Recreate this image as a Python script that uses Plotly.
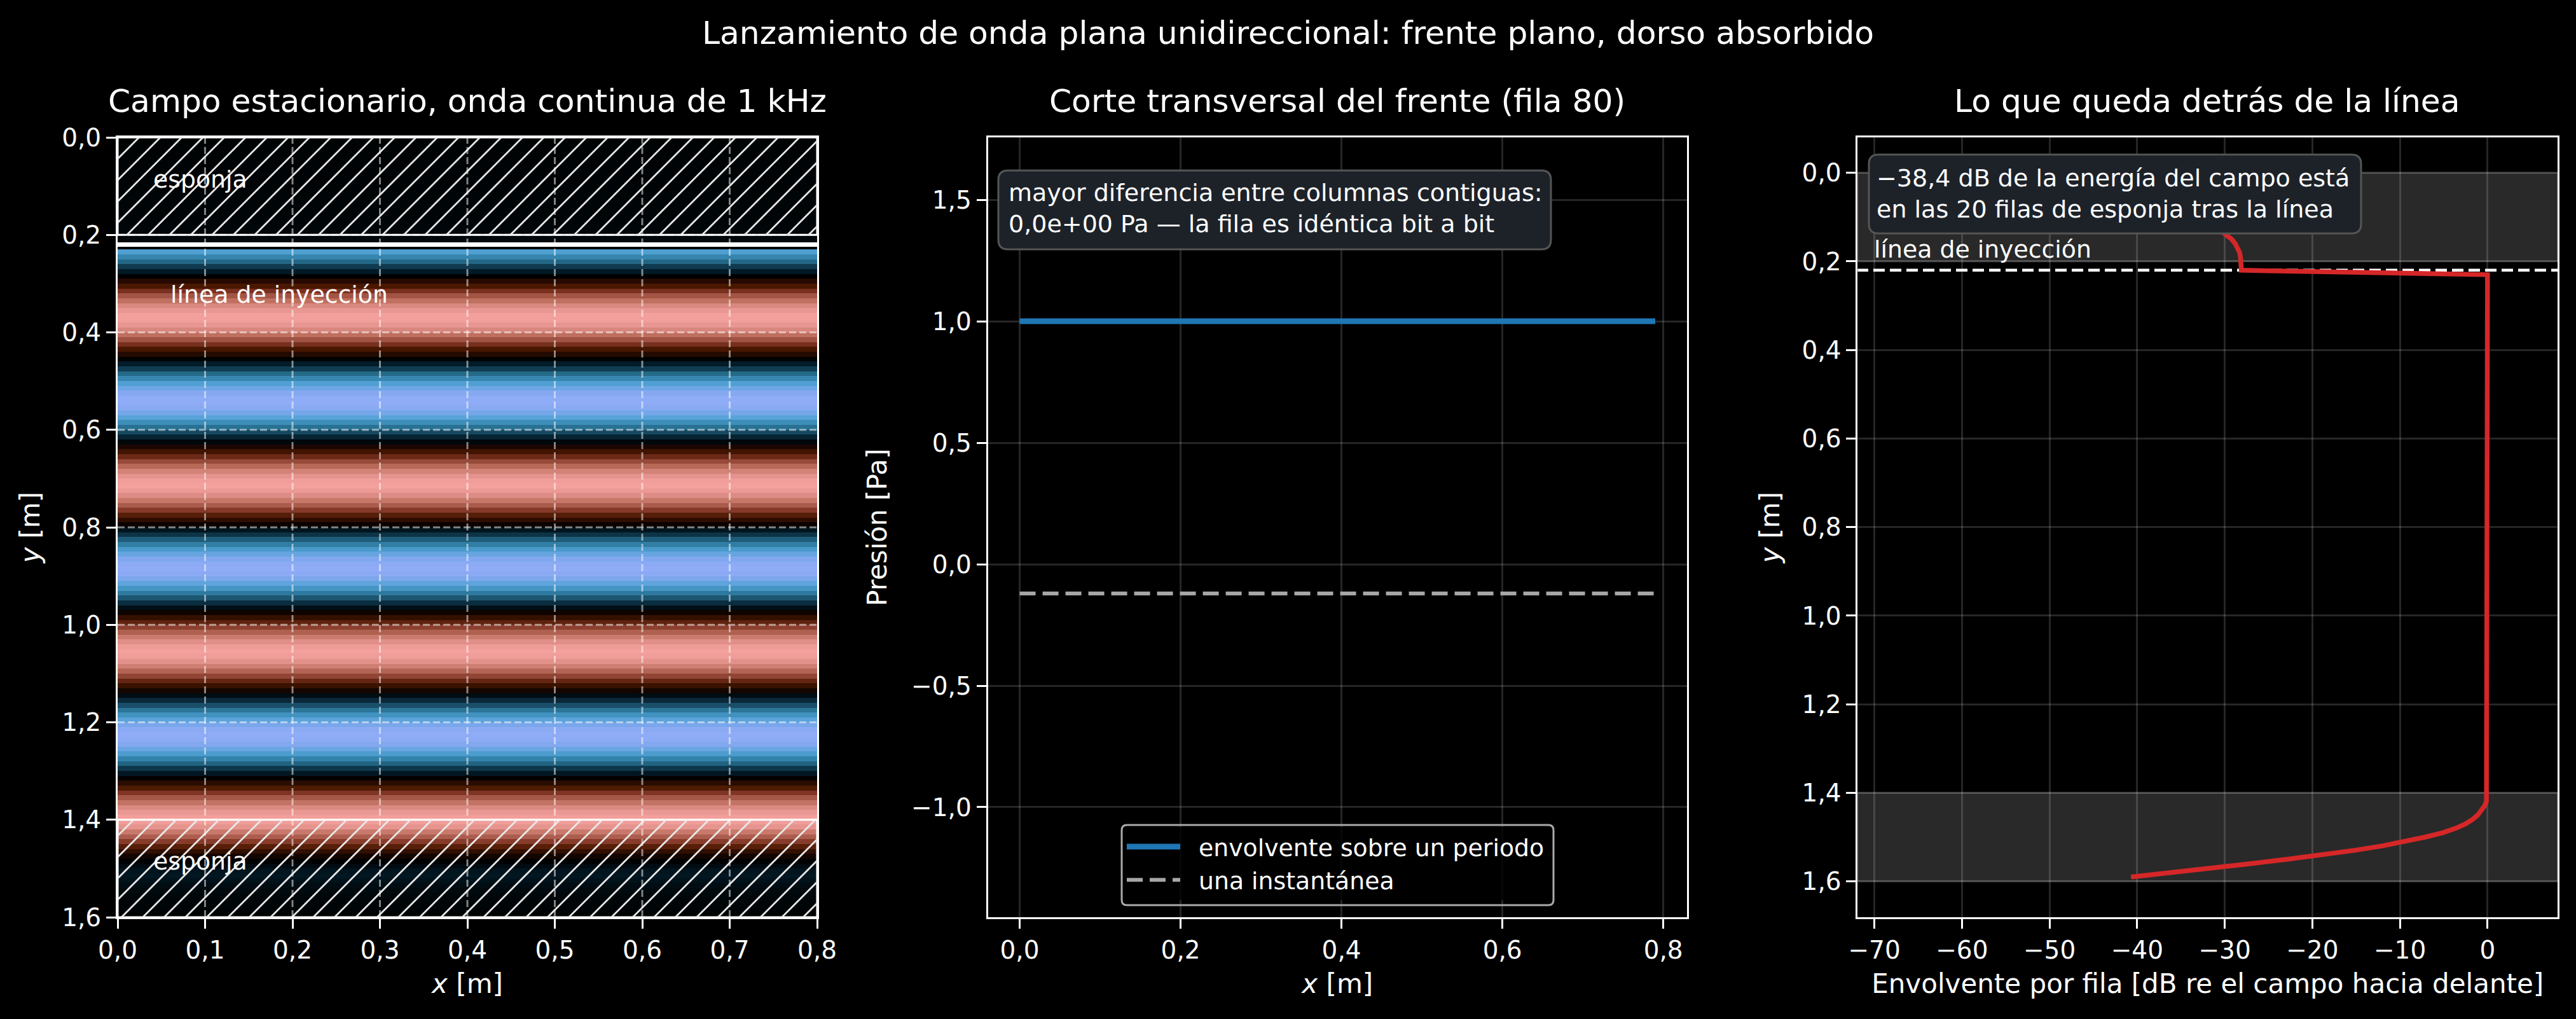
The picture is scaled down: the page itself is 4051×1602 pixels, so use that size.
import plotly.graph_objects as go
from plotly.subplots import make_subplots

# ---------------------------------------------------------------
# Datos
# ---------------------------------------------------------------
# presion por fila (fila 0 arriba, 160 filas de 0,01 m)
presion_fila = [
    -0.005, -0.005, -0.006, -0.006, -0.007, -0.007, -0.008, -0.008, -0.009, -0.010,
    -0.011, -0.012, -0.013, -0.014, -0.015, -0.016, -0.018, -0.020, -0.022, -0.024,
    -0.026, -0.028, 0.010, -0.781, -0.654, -0.506, -0.340, -0.163, 0.019, 0.200,
    0.376, 0.538, 0.683, 0.804, 0.899, 0.964, 0.996, 0.995, 0.961, 0.895,
    0.798, 0.675, 0.529, 0.367, 0.191, 0.009, -0.174, -0.350, -0.515, -0.663,
    -0.788, -0.887, -0.956, -0.994, -0.998, -0.969, -0.907, -0.815, -0.696, -0.553,
    -0.392, -0.217, -0.035, 0.147, 0.325, 0.492, 0.641, 0.771, 0.874, 0.948,
    0.990, 0.999, 0.975, 0.918, 0.830, 0.714, 0.575, 0.416, 0.243, 0.063,
    -0.120, -0.299, -0.467, -0.621, -0.753, -0.859, -0.939, -0.986, -1.000, -0.980,
    -0.927, -0.844, -0.734, -0.597, -0.442, -0.270, -0.091, 0.092, 0.273, 0.445,
    0.599, 0.735, 0.846, 0.929, 0.981, 1.000, 0.985, 0.938, 0.859, 0.751,
    0.619, 0.465, 0.296, 0.117, -0.066, -0.246, -0.419, -0.577, -0.716, -0.832,
    -0.919, -0.975, -0.999, -0.990, -0.947, -0.873, -0.769, -0.640, -0.490, -0.323,
    -0.144, 0.038, 0.220, 0.393, 0.554, 0.697, 0.816, 0.908, 0.969, 0.998,
    0.990, 0.950, 0.840, 0.720, 0.580, 0.420, 0.260, 0.110, 0.010, -0.060,
    -0.120, -0.140, -0.110, -0.070, -0.050, -0.035, -0.025, -0.015, -0.010, -0.005,
]
envolvente_pa = [1.0] * 80

# envolvente en dB por fila
db_esponja_sup = [
    -68.0, -64.0, -60.0, -56.0, -52.0, -47.5, -44.0, -40.7, -38.0, -36.0,
    -34.0, -32.7, -31.5, -30.5, -29.8, -29.2, -28.8, -28.5, -28.3, -28.2,
    -28.15, -28.1, -28.1,
]
db_medio = [0.0] * 117
db_esponja_inf = [
    0.0, -0.03, -0.12, -0.35, -0.65, -1.1, -1.7, -2.5, -3.6, -5.1,
    -7.1, -9.3, -12.0, -15.2, -18.7, -22.8, -27.0, -31.7, -36.3, -40.7,
]
db_fila = db_esponja_sup + db_medio + db_esponja_inf

columnas_x = [i * 0.01 for i in range(80)]
filas_y = [i * 0.01 for i in range(160)]
y_inyeccion = 0.22

ticks_x_campo = [0.0, 0.1, 0.2, 0.3, 0.4, 0.5, 0.6, 0.7, 0.8]
textos_x_campo = ["0,0", "0,1", "0,2", "0,3", "0,4", "0,5", "0,6", "0,7", "0,8"]
ticks_y = [0.0, 0.2, 0.4, 0.6, 0.8, 1.0, 1.2, 1.4, 1.6]
textos_y = ["0,0", "0,2", "0,4", "0,6", "0,8", "1,0", "1,2", "1,4", "1,6"]
ticks_x_corte = [0.0, 0.2, 0.4, 0.6, 0.8]
textos_x_corte = ["0,0", "0,2", "0,4", "0,6", "0,8"]
ticks_p = [-1.0, -0.5, 0.0, 0.5, 1.0, 1.5]
textos_p = ["−1,0", "−0,5", "0,0", "0,5", "1,0", "1,5"]
ticks_db = [-70, -60, -50, -40, -30, -20, -10, 0]
textos_db = ["−70", "−60", "−50", "−40", "−30", "−20", "−10", "0"]

# colores leidos fila a fila (presion -> color)
escala_presion = [-1.0, -0.95, -0.887, -0.787, -0.654, -0.506, -0.34, -0.163, 0.02,
                  0.2, 0.376, 0.538, 0.683, 0.804, 0.9, 0.964, 1.0]
escala_color = ["#90acf7", "#85a8f0", "#6ea6e5", "#50a0d3", "#3585ae", "#236786", "#103a50",
                "#021a26", "#000000", "#260a00", "#4a1800", "#7a3020", "#a35545", "#c0705f",
                "#d98880", "#e89792", "#f4a19d"]

# ---------------------------------------------------------------
# Geometria en pixeles
# ---------------------------------------------------------------
ANCHO, ALTO = 4051, 1602
M_IZQ, M_DER, M_SUP, M_INF = 185, 29, 216, 160
AREA_W = ANCHO - M_IZQ - M_DER
AREA_H = ALTO - M_SUP - M_INF
FUENTE = "DejaVu Sans"


def px_x(p):
    return (p - M_IZQ) / AREA_W


def px_y(p):
    return (ALTO - M_INF - p) / AREA_H


def caja_redondeada(x0, y0, x1, y1, r, relleno, borde):
    # rectangulo con esquinas redondeadas, en pixeles de la figura
    X0, X1, Y0, Y1 = px_x(x0), px_x(x1), px_y(y0), px_y(y1)
    RX, RY = r / AREA_W, r / AREA_H
    camino = (
        f"M{X0+RX},{Y0} L{X1-RX},{Y0} Q{X1},{Y0} {X1},{Y0-RY} "
        f"L{X1},{Y1+RY} Q{X1},{Y1} {X1-RX},{Y1} "
        f"L{X0+RX},{Y1} Q{X0},{Y1} {X0},{Y1+RY} "
        f"L{X0},{Y0-RY} Q{X0},{Y0} {X0+RX},{Y0} Z"
    )
    fig.add_shape(type="path", path=camino, xref="paper", yref="paper", layer="above",
                  fillcolor=relleno, line=dict(color=borde, width=3))


def texto(px, py, cadena, tam, anchor="left"):
    fig.add_annotation(x=px_x(px), y=px_y(py), xref="paper", yref="paper", text=cadena,
                       showarrow=False, xanchor=anchor, yanchor="middle", align="left",
                       font=dict(family=FUENTE, size=tam, color="white"))


def rayado(y_arriba, y_abajo, x_abajo_ref):
    # rayas a 45 grados en pantalla, recortadas a la banda de esponja
    paso = 33.5 / 1375
    pendiente = 765.6 / 1375
    avance = (y_abajo - y_arriba) * pendiente
    xs, ys = [], []
    x_ab = x_abajo_ref - paso * int((x_abajo_ref + avance) / paso + 1)
    while x_ab < 0.8:
        x_ar = x_ab + avance
        xa, ya, xb, yb = x_ab, y_abajo, x_ar, y_arriba
        if xa < 0:
            xa, ya = 0, y_abajo + xa / pendiente
        if xb > 0.8:
            xb, yb = 0.8, y_arriba + (x_ar - 0.8) / pendiente
        xs += [xa, xb, None]
        ys += [ya, yb, None]
        x_ab += paso
    return xs, ys


fig = make_subplots(rows=1, cols=3)

# ---------------------------------------------------------------
# Panel 1: campo estacionario
# ---------------------------------------------------------------
colores = [[(v + 1) / 2, c] for v, c in zip(escala_presion, escala_color)]
fig.add_trace(go.Heatmap(z=[[p] * 80 for p in presion_fila], x0=0.005, dx=0.01, y0=0.005, dy=0.01,
                         zmin=-1, zmax=1, colorscale=colores, showscale=False), row=1, col=1)
for banda in [(0.0, 0.2, 0.0245 - 0.2 * 765.6 / 1375), (1.4, 1.6, 0.0044)]:
    xs, ys = rayado(*banda)
    fig.add_trace(go.Scatter(x=xs, y=ys, mode="lines", showlegend=False, hoverinfo="skip",
                             line=dict(color="#e8e8e8", width=2.8)), row=1, col=1)
fig.add_trace(go.Bar(orientation="h", y=[0.1, 1.5], x=[0.8, 0.8], width=[0.2, 0.2], showlegend=False,
                     marker=dict(color="rgba(0,0,0,0)", line=dict(color="white", width=3))),
              row=1, col=1)
fig.add_trace(go.Scatter(x=[0, 0.8], y=[y_inyeccion, y_inyeccion], mode="lines", showlegend=False,
                         line=dict(color="white", width=7)), row=1, col=1)

# la rejilla va encima del campo
for t in ticks_x_campo[1:-1]:
    fig.add_shape(type="line", x0=t, x1=t, y0=0, y1=1, xref="x", yref="y domain", layer="above",
                  line=dict(color="rgba(255,255,255,0.5)", width=3, dash="11px,5px"))
for t in ticks_y[1:-1]:
    fig.add_shape(type="line", x0=0, x1=1, y0=t, y1=t, xref="x domain", yref="y", layer="above",
                  line=dict(color="rgba(255,255,255,0.5)", width=3, dash="11px,5px"))

# ---------------------------------------------------------------
# Panel 2: corte transversal
# ---------------------------------------------------------------
fig.add_trace(go.Scatter(x=columnas_x, y=envolvente_pa, mode="lines", name="\u00a0\u00a0envolvente sobre un periodo",
                         line=dict(color="#1f77b4", width=9)), row=1, col=2)
fig.add_trace(go.Scatter(x=columnas_x, y=[presion_fila[80]] * 80, mode="lines", name="\u00a0\u00a0una instantánea",
                         line=dict(color="#a6a6a6", width=6, dash="25px,11px")), row=1, col=2)

# ---------------------------------------------------------------
# Panel 3: envolvente por fila
# ---------------------------------------------------------------
for y0, y1 in [(0.0, 0.2), (1.4, 1.6)]:
    fig.add_shape(type="rect", x0=0, x1=1, y0=y0, y1=y1, xref="x3 domain", yref="y3", layer="below",
                  fillcolor="rgba(255,255,255,0.16)", line=dict(color="rgba(255,255,255,0.12)", width=3))
fig.add_trace(go.Scatter(x=[-72, 8], y=[y_inyeccion, y_inyeccion], mode="lines", showlegend=False,
                         line=dict(color="white", width=4.5, dash="18px,8px")), row=1, col=3)
fig.add_trace(go.Scatter(x=db_fila, y=filas_y, mode="lines", showlegend=False,
                         line=dict(color="#d62728", width=7.5)), row=1, col=3)

# ---------------------------------------------------------------
# Ejes
# ---------------------------------------------------------------
ejes = dict(showline=True, mirror=True, linecolor="white", linewidth=3, zeroline=False, automargin=False,
            ticks="outside", ticklen=15, tickwidth=3, tickcolor="white",
            tickfont=dict(family=FUENTE, size=39, color="white"))
titulo = dict(family=FUENTE, size=42, color="white")
rejilla = dict(showgrid=True, gridcolor="rgba(255,255,255,0.15)", gridwidth=2.5)

fig.update_xaxes(domain=[0, px_x(1285)], range=[0, 0.8], tickvals=ticks_x_campo, ticktext=textos_x_campo,
                 showgrid=False, title=dict(text="<i>x</i> [m]", font=titulo, standoff=17), **ejes, row=1, col=1)
fig.update_yaxes(range=[1.6, 0], tickvals=ticks_y, ticktext=textos_y, showgrid=False,
                 title=dict(text="<i>y</i> [m]", font=titulo, standoff=22), **ejes, row=1, col=1)
fig.update_xaxes(domain=[px_x(1553.6), px_x(2653)], range=[-0.0395, 0.8295], tickvals=ticks_x_corte,
                 ticktext=textos_x_corte, title=dict(text="<i>x</i> [m]", font=titulo, standoff=17),
                 **rejilla, **ejes, row=1, col=2)
fig.update_yaxes(range=[-1.453, 1.757], tickvals=ticks_p, ticktext=textos_p,
                 title=dict(text="Presión [Pa]", font=titulo, standoff=26), **rejilla, **ejes, row=1, col=2)
fig.update_xaxes(domain=[px_x(2921.4), 1], range=[-71.9, 8.0], tickvals=ticks_db, ticktext=textos_db,
                 title=dict(text="Envolvente por fila [dB re el campo hacia delante]", font=titulo, standoff=17),
                 **rejilla, **ejes, row=1, col=3)
fig.update_yaxes(range=[1.681, -0.08], tickvals=ticks_y, ticktext=textos_y,
                 title=dict(text="<i>y</i> [m]", font=titulo, standoff=22), **rejilla, **ejes, row=1, col=3)

# ---------------------------------------------------------------
# Textos y cajas
# ---------------------------------------------------------------
texto(2025, 52, "Lanzamiento de onda plana unidireccional: frente plano, dorso absorbido", 50.3, "center")
texto(735, 158, "Campo estacionario, onda continua de 1 kHz", 50.3, "center")
texto(2103, 158, "Corte transversal del frente (fila 80)", 50.3, "center")
texto(3471, 158, "Lo que queda detrás de la línea", 50.3, "center")

texto(239, 282, "esponja", 37.8)
texto(239, 1354, "esponja", 37.8)
texto(266, 463, "línea de inyección", 37.8)

caja_redondeada(1570, 268, 2439, 392, 15, "#1d2229", "#555555")
texto(1584, 327, "mayor diferencia entre columnas contiguas:<br>0,0e+00 Pa — la fila es idéntica bit a bit", 38)

caja_redondeada(2939, 243, 3713, 367, 15, "#1d2229", "#555555")
texto(2949, 304, "−38,4 dB de la energía del campo está<br>en las 20 filas de esponja tras la línea", 38)
texto(2945, 392, "línea de inyección", 37.8)

caja_redondeada(1764, 1297, 2443, 1423, 8, "rgba(0,0,0,0)", "#aaaaaa")

fig.update_layout(
    width=ANCHO, height=ALTO, autosize=False,
    margin=dict(l=M_IZQ, r=M_DER, t=M_SUP, b=M_INF, pad=0),
    paper_bgcolor="black", plot_bgcolor="black", font=dict(family=FUENTE, color="white"),
    barmode="overlay",
    legend=dict(x=px_x(1767), y=px_y(1300), xanchor="left", yanchor="top", bgcolor="rgba(0,0,0,0.8)",
                font=dict(family=FUENTE, size=37.8, color="white"), itemwidth=84, borderwidth=0),
)

fig.write_html("out.html", config={"displayModeBar": False},
               post_script="document.body.style.margin='0';document.body.style.background='black';")
